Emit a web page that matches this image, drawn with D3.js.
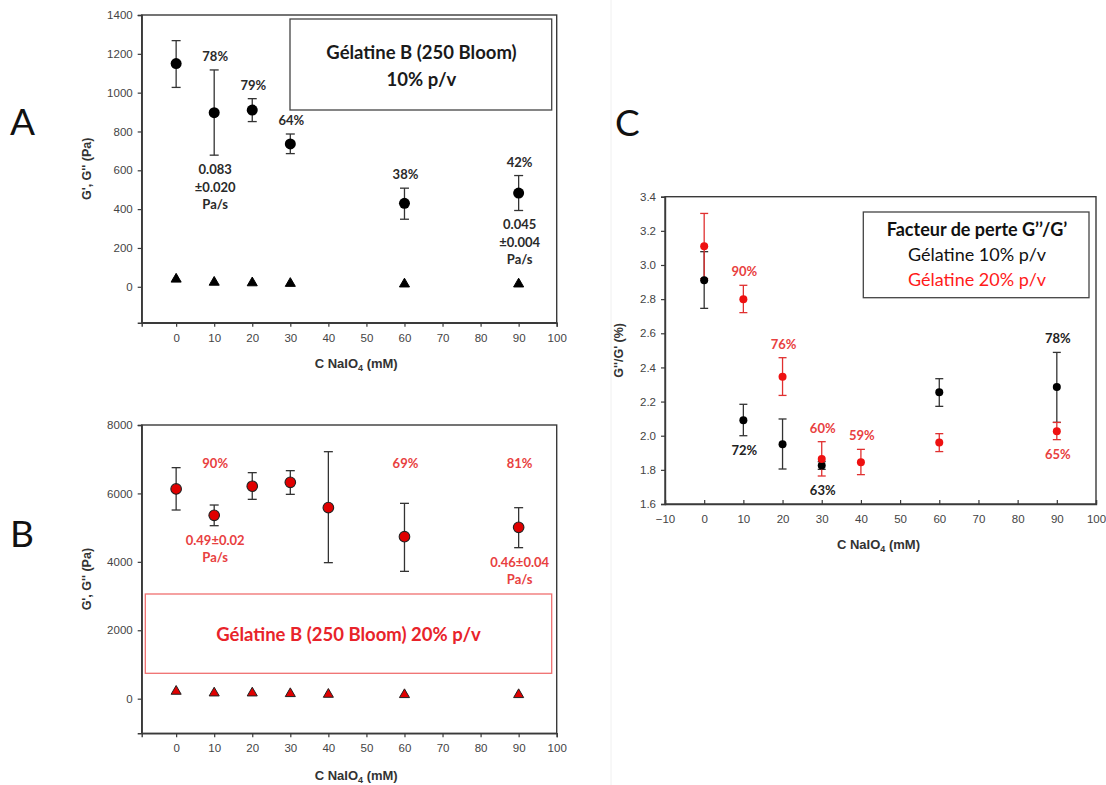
<!DOCTYPE html>
<html><head><meta charset="utf-8">
<script src="https://cdn.jsdelivr.net/npm/d3@7"></script>
<style>
body{margin:0;background:#fff;}
svg{display:block;}
</style></head>
<body>
<svg id="c" width="1106" height="785"></svg>
<script>
// ---------- DATA ----------
// Panel A : Gélatine B 10% p/v
const concA = [0, 10, 20, 30, 60, 90];
const gPrimeA = [1150, 897, 910, 736, 430, 483];
const gPrimeA_lo = [1027, 678, 851, 686, 348, 393];
const gPrimeA_hi = [1268, 1117, 969, 787, 508, 573];
const gSecA = [34, 18, 15, 12, 9, 9];

// Panel B : Gélatine B 20% p/v
const concB = [0, 10, 20, 30, 40, 60, 90];
const gPrimeB = [6130, 5360, 6210, 6325, 5585, 4735, 5010];
const gPrimeB_lo = [5515, 5057, 5827, 5973, 3976, 3722, 4414];
const gPrimeB_hi = [6753, 5661, 6607, 6665, 7220, 5710, 5583];
const gSecB = [185, 136, 136, 117, 97, 88, 88];

// Panel C : loss factor G''/G'
const concC10 = [0, 10, 20, 30, 60, 90];
const ratioC10 = [2.91, 2.09, 1.95, 1.825, 2.255, 2.285];
const ratioC10_lo = [2.746, 2.0, 1.805, 1.803, 2.172, 2.078];
const ratioC10_hi = [3.078, 2.184, 2.098, 1.848, 2.334, 2.488];
const concC20 = [0, 10, 20, 30, 40, 60, 90];
const ratioC20 = [3.11, 2.80, 2.345, 1.864, 1.845, 1.96, 2.026];
const ratioC20_lo = [2.92, 2.721, 2.236, 1.764, 1.772, 1.907, 1.977];
const ratioC20_hi = [3.302, 2.881, 2.457, 1.965, 1.920, 2.012, 2.078];

// tick labels
const xTicksAB = [0, 10, 20, 30, 40, 50, 60, 70, 80, 90, 100];
const yTicksA = [0, 200, 400, 600, 800, 1000, 1200, 1400];
const yTicksB = [0, 2000, 4000, 6000, 8000];
const xTicksC = [-10, 0, 10, 20, 30, 40, 50, 60, 70, 80, 90, 100];
const yTicksC = [1.6, 1.8, 2.0, 2.2, 2.4, 2.6, 2.8, 3.0, 3.2, 3.4];

// annotations
const annA = [
  {x: 10, v: 1117, t: ["78%"], pos: "above"},
  {x: 20, v: 969, t: ["79%"], pos: "above"},
  {x: 30, v: 787, t: ["64%"], pos: "above"},
  {x: 60, v: 508, t: ["38%"], pos: "above"},
  {x: 90, v: 573, t: ["42%"], pos: "above"},
  {x: 10, v: 678, t: ["0.083", "±0.020", "Pa/s"], pos: "below"},
  {x: 90, v: 393, t: ["0.045", "±0.004", "Pa/s"], pos: "below"}
];
const annB = [
  {x: 10, v: 6470, t: ["90%"], pos: "above"},
  {x: 60, v: 6470, t: ["69%"], pos: "above"},
  {x: 90, v: 6470, t: ["81%"], pos: "above"},
  {x: 10, v: 5057, t: ["0.49±0.02", "Pa/s"], pos: "below"},
  {x: 90, v: 4414, t: ["0.46±0.04", "Pa/s"], pos: "below"}
];
const annC = [
  {x: 10, v: 2.881, t: ["90%"], pos: "above", red: true},
  {x: 20, v: 2.457, t: ["76%"], pos: "above", red: true},
  {x: 30, v: 1.965, t: ["60%"], pos: "above", red: true},
  {x: 40, v: 1.920, t: ["59%"], pos: "above", red: true},
  {x: 90, v: 1.977, t: ["65%"], pos: "below", red: true},
  {x: 10, v: 2.0, t: ["72%"], pos: "below", red: false},
  {x: 30, v: 1.764, t: ["63%"], pos: "below", red: false},
  {x: 90, v: 2.488, t: ["78%"], pos: "above", red: false}
];

// ---------- DRAW ----------
const svg = d3.select("#c");
const RED = "#e8232a";
const AXC = "#3a3a3a";
const tickFont = "Liberation Sans, Arial, sans-serif";
const annFont = "Lato, 'Open Sans', sans-serif";

// faint separator between the left panels and panel C
svg.append("line").attr("x1", 611).attr("x2", 611).attr("y1", 0).attr("y2", 785)
  .attr("stroke", "#f0f0f0").attr("stroke-width", 1);

function panel(o) {
  const x = d3.scaleLinear().domain(o.xd).range([o.l, o.r]);
  const y = d3.scaleLinear().domain(o.yd).range([o.b, o.t]);
  const g = svg.append("g");
  g.append("rect").attr("x", o.l).attr("y", o.t).attr("width", o.r - o.l).attr("height", o.b - o.t)
    .attr("fill", "none").attr("stroke", AXC).attr("stroke-width", 1.4);
  const xa = d3.axisBottom(x).tickValues(o.xt).tickSize(o.xIn ? -4 : 4).tickPadding(o.xIn ? 11 : 7).tickFormat(d3.format("d"));
  const ya = d3.axisLeft(y).tickValues(o.yt).tickSize(4).tickPadding(5).tickFormat(o.yf);
  const gx = g.append("g").attr("transform", `translate(0,${o.b})`).call(xa);
  const gy = g.append("g").attr("transform", `translate(${o.l},0)`).call(ya);
  [gx, gy].forEach(a => {
    a.select(".domain").attr("stroke", AXC).attr("stroke-width", 1.4);
    a.selectAll(".tick line").attr("stroke", AXC).attr("stroke-width", 1.2);
    a.selectAll(".tick text").attr("fill", "#444").style("font-family", tickFont).style("font-size", "11.5px");
  });
  g.append("text").attr("transform", `translate(${o.ytx},${(o.t + o.b) / 2}) rotate(-90)`)
    .attr("text-anchor", "middle").attr("dominant-baseline", "middle")
    .style("font-family", tickFont).style("font-size", "12.5px").style("font-weight", "bold").attr("fill", "#333")
    .text(o.ytitle);
  const xtl = g.append("text").attr("x", (o.l + o.r) / 2 + (o.xtdx || 0)).attr("y", o.xty)
    .attr("text-anchor", "middle")
    .style("font-family", tickFont).style("font-size", "13px").style("font-weight", "bold").attr("fill", "#333");
  xtl.append("tspan").text("C NaIO");
  xtl.append("tspan").attr("dy", 3).style("font-size", "9px").text("4");
  xtl.append("tspan").attr("dy", -3).text(" (mM)");
  return {x, y, g};
}

function errbars(p, xs, lo, hi, color, cap) {
  const g = p.g.append("g").attr("stroke", color).attr("stroke-width", 1.3).attr("fill", "none");
  xs.forEach((c, i) => {
    const X = p.x(c);
    g.append("line").attr("x1", X).attr("x2", X).attr("y1", p.y(lo[i])).attr("y2", p.y(hi[i]));
    g.append("line").attr("x1", X - cap).attr("x2", X + cap).attr("y1", p.y(lo[i])).attr("y2", p.y(lo[i]));
    g.append("line").attr("x1", X - cap).attr("x2", X + cap).attr("y1", p.y(hi[i])).attr("y2", p.y(hi[i]));
  });
}

function circles(p, xs, vs, fill, stroke, r) {
  p.g.append("g").selectAll("circle").data(xs).join("circle")
    .attr("cx", d => p.x(d)).attr("cy", (d, i) => p.y(vs[i])).attr("r", r)
    .attr("fill", fill).attr("stroke", stroke).attr("stroke-width", stroke === "none" ? 0 : 1.1);
}

function triangles(p, xs, vs, fill, stroke) {
  const sym = d3.symbol().type(d3.symbolTriangle).size(44);
  p.g.append("g").selectAll("path").data(xs).join("path")
    .attr("d", sym).attr("transform", (d, i) => `translate(${p.x(d)},${p.y(vs[i]) - 1})`)
    .attr("fill", fill).attr("stroke", stroke).attr("stroke-width", 1);
}

function annotate(p, list, colorFn, lh) {
  list.forEach(a => {
    const X = p.x(a.x);
    const baseY = p.y(a.v);
    const n = a.t.length;
    a.t.forEach((s, k) => {
      let yy;
      if (a.pos === "above") yy = baseY - 9 - (n - 1 - k) * lh;
      else yy = baseY + 19 + k * lh;
      p.g.append("text").attr("x", X + 1).attr("y", yy).attr("text-anchor", "middle")
        .style("font-family", annFont).style("font-size", "13px").style("font-weight", "bold")
        .attr("fill", colorFn(a)).text(s);
    });
  });
}

// Panel A
const pA = panel({l: 141.7, r: 556.7, t: 15, b: 322.7, xd: [-9.05, 100], yd: [-185, 1400],
  xt: xTicksAB, yt: yTicksA, yf: d3.format("d"), ytx: 88, ytitle: "G', G'' (Pa)", xty: 368, xtdx: 7});
errbars(pA, concA, gPrimeA_lo, gPrimeA_hi, "#333", 4.5);
circles(pA, concA, gPrimeA, "#000", "none", 5.5);
triangles(pA, concA, gSecA, "#000", "#000");
annotate(pA, annA, () => "#2a2a2a", 17.5);
pA.g.append("rect").attr("x", 290).attr("y", 19).attr("width", 261.7).attr("height", 91)
  .attr("fill", "#fff").attr("stroke", "#444").attr("stroke-width", 1.3);
pA.g.append("text").attr("x", 421.5).attr("y", 59).attr("text-anchor", "middle")
  .style("font-family", annFont).style("font-size", "18.5px").style("font-weight", "bold").attr("fill", "#1a1a1a")
  .text("Gélatine B (250 Bloom)");
pA.g.append("text").attr("x", 421.5).attr("y", 86).attr("text-anchor", "middle")
  .style("font-family", annFont).style("font-size", "18.5px").style("font-weight", "bold").attr("fill", "#1a1a1a")
  .text("10% p/v");

// Panel B
const pB = panel({l: 141.7, r: 556.7, t: 425, b: 733.3, xd: [-9.05, 100], yd: [-1012, 8000],
  xt: xTicksAB, yt: yTicksB, yf: d3.format("d"), ytx: 88, ytitle: "G', G'' (Pa)", xty: 780, xtdx: 7});
errbars(pB, concB, gPrimeB_lo, gPrimeB_hi, "#333", 4.5);
circles(pB, concB, gPrimeB, "#e00000", "#222", 5.3);
triangles(pB, concB, gSecB, "#e00000", "#222");
annotate(pB, annB, () => "#e84040", 17.5);
pB.g.append("rect").attr("x", 145.3).attr("y", 594).attr("width", 406.4).attr("height", 79.3)
  .attr("fill", "none").attr("stroke", "#f07070").attr("stroke-width", 1.3);
pB.g.append("text").attr("x", 348.5).attr("y", 641).attr("text-anchor", "middle")
  .style("font-family", annFont).style("font-size", "18.5px").style("font-weight", "bold").attr("fill", RED)
  .text("Gélatine B (250 Bloom) 20% p/v");

// Panel C
const pC = panel({l: 665, r: 1096, t: 196.7, b: 504, xd: [-10, 100], yd: [1.6, 3.4],
  xt: xTicksC, yt: yTicksC, yf: d3.format(".1f"), ytx: 620, ytitle: "G''/G' (%)", xty: 549, xtdx: -2, xIn: true});
errbars(pC, concC10, ratioC10_lo, ratioC10_hi, "#333", 4);
errbars(pC, concC20, ratioC20_lo, ratioC20_hi, "#e03030", 4);
circles(pC, concC10, ratioC10, "#000", "none", 4);
circles(pC, concC20, ratioC20, "#ee1111", "none", 4);
annotate(pC, annC, a => a.red ? "#e84040" : "#222", 17);
pC.g.append("rect").attr("x", 863.3).attr("y", 212).attr("width", 225.7).attr("height", 85.7)
  .attr("fill", "#fff").attr("stroke", "#444").attr("stroke-width", 1.3);
const legC = [
  {t: "Facteur de perte G’’/G’", y: 236, w: "bold", c: "#111"},
  {t: "Gélatine 10% p/v", y: 261, w: "normal", c: "#111"},
  {t: "Gélatine 20% p/v", y: 286, w: "normal", c: "#ff1a1a"}
];
legC.forEach(d => pC.g.append("text").attr("x", 977).attr("y", d.y).attr("text-anchor", "middle")
  .style("font-family", annFont).style("font-size", "18px").style("font-weight", d.w).attr("fill", d.c).text(d.t));

// Panel letters
[["A", 10, 135], ["B", 10, 547], ["C", 615, 136]].forEach(d =>
  svg.append("text").attr("x", d[1]).attr("y", d[2]).style("font-family", annFont)
    .style("font-size", "37px").attr("fill", "#111").text(d[0]));
</script>
</body></html>
